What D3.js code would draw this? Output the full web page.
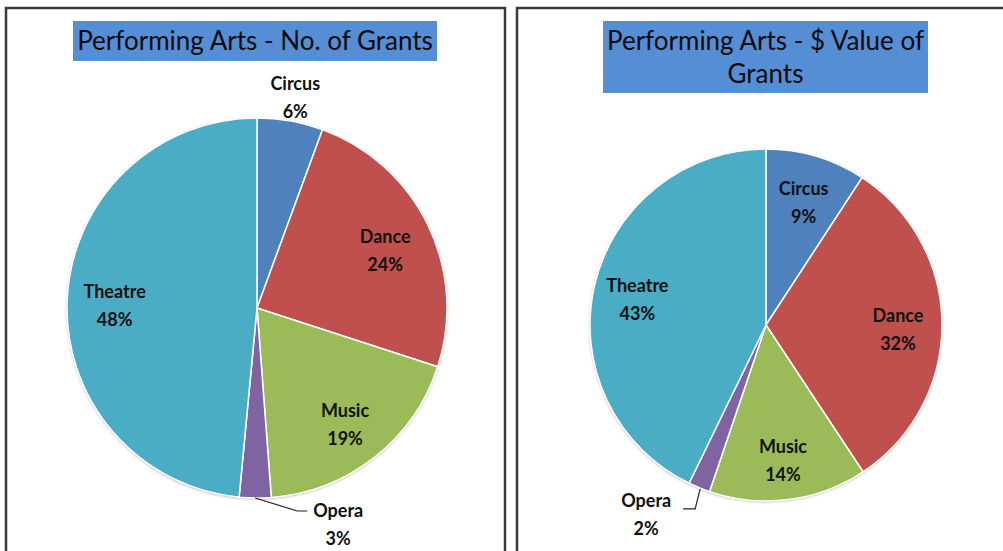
<!DOCTYPE html>
<html>
<head>
<meta charset="utf-8">
<script src="https://cdn.jsdelivr.net/npm/d3@7"></script>
<style>
  body { margin: 0; background: #fff; }
  svg { display: block; }
  text { font-family: Lato, "Open Sans", sans-serif; }
</style>
</head>
<body>
<svg id="chart" width="1003" height="551"></svg>
<script>
// categories and series values (percent of total)
const categories = ['Circus', 'Dance', 'Music', 'Opera', 'Theatre'];
const grantCounts = [5.6, 24.4, 18.8, 2.7, 48.5];
const grantValues = [9.2, 31.5, 14.5, 2.0, 42.8];
const countLabels = ['6%', '24%', '19%', '3%', '48%'];
const valueLabels = ['9%', '32%', '14%', '2%', '43%'];

const colors = d3.scaleOrdinal()
    .domain(categories)
    .range(['#4f81bd', '#c0504d', '#9bbb59', '#8064a2', '#4bacc6']);

const svg = d3.select('#chart');

// soft shadow under the pies
const defs = svg.append('defs');
const f = defs.append('filter').attr('id', 'shadow')
    .attr('x', '-10%').attr('y', '-10%').attr('width', '120%').attr('height', '120%');
f.append('feDropShadow')
    .attr('dx', 0).attr('dy', 1).attr('stdDeviation', 1.5)
    .attr('flood-color', '#000').attr('flood-opacity', 0.35);

function drawPanel(opts) {
    const g = svg.append('g');

    // panel frame
    g.append('rect')
        .attr('x', opts.x).attr('y', 8)
        .attr('width', opts.w).attr('height', 600)
        .attr('fill', '#fff')
        .attr('stroke', '#3a3a3a')
        .attr('stroke-width', 2.5);

    // title box
    g.append('rect')
        .attr('x', opts.title.x).attr('y', 21)
        .attr('width', opts.title.w).attr('height', opts.title.h)
        .attr('fill', '#558ed5');
    const t = g.append('text')
        .attr('text-anchor', 'middle')
        .attr('fill', '#0a0a0a')
        .style('font-size', '26px');
    opts.title.lines.forEach((line, i) => {
        t.append('tspan')
            .attr('x', opts.title.x + opts.title.w / 2)
            .attr('y', 50 + i * 33)
            .text(line);
    });

    const data = categories.map((c, i) => ({ name: c, value: opts.values[i], label: opts.labels[i] }));
    const pie = d3.pie().sort(null).value(d => d.value);
    const arcs = pie(data);
    const r = opts.r;
    const arc = d3.arc().innerRadius(0).outerRadius(r);
    const labelArc = d3.arc().innerRadius(r * 0.75).outerRadius(r * 0.75);

    const pg = g.append('g').attr('transform', `translate(${opts.cx},${opts.cy})`);

    pg.append('circle').attr('r', r).attr('fill', '#fff').attr('filter', 'url(#shadow)');

    pg.selectAll('path.slice')
        .data(arcs)
        .enter().append('path')
        .attr('class', 'slice')
        .attr('d', arc)
        .attr('fill', d => colors(d.data.name))
        .attr('stroke', '#fff')
        .attr('stroke-width', 1.5);

    arcs.forEach(a => {
        const out = opts.outside[a.data.name];
        let x, y;
        if (out) {
            const mid = (a.startAngle + a.endAngle) / 2;
            const sx = Math.sin(mid) * r, sy = -Math.cos(mid) * r;
            if (out.leader) {
                pg.append('path')
                    .attr('d', d3.line()(out.leader.map(p => [sx + p[0], sy + p[1]])))
                    .attr('fill', 'none')
                    .attr('stroke', '#222')
                    .attr('stroke-width', 1.2);
            }
            x = sx + out.dx;
            y = sy + out.dy;
        } else {
            [x, y] = labelArc.centroid(a);
        }
        const lt = pg.append('text')
            .attr('text-anchor', 'middle')
            .attr('fill', '#111')
            .style('font-size', '18px')
            .style('font-weight', 'bold');
        lt.append('tspan').attr('x', x).attr('y', y - 3).text(a.data.name);
        lt.append('tspan').attr('x', x).attr('y', y + 25).text(a.data.label);
    });
}

drawPanel({
    x: 6, w: 499, cx: 257, cy: 308, r: 190,
    values: grantCounts, labels: countLabels,
    title: { x: 73, w: 364, h: 40, lines: ['Performing Arts - No. of Grants'] },
    outside: {
        Circus: { dx: 5, dy: -28 },
        Opera: { dx: 83, dy: 22, leader: [[0, 0], [42, 13], [52, 13]] }
    }
});

drawPanel({
    x: 517, w: 500, cx: 766, cy: 325, r: 176,
    values: grantValues, labels: valueLabels,
    title: { x: 603, w: 325, h: 72, lines: ['Performing Arts - $ Value of', 'Grants'] },
    outside: {
        Opera: { dx: -53, dy: 22, leader: [[1, 1], [-4, 21], [-16, 21]] }
    }
});
</script>
</body>
</html>
